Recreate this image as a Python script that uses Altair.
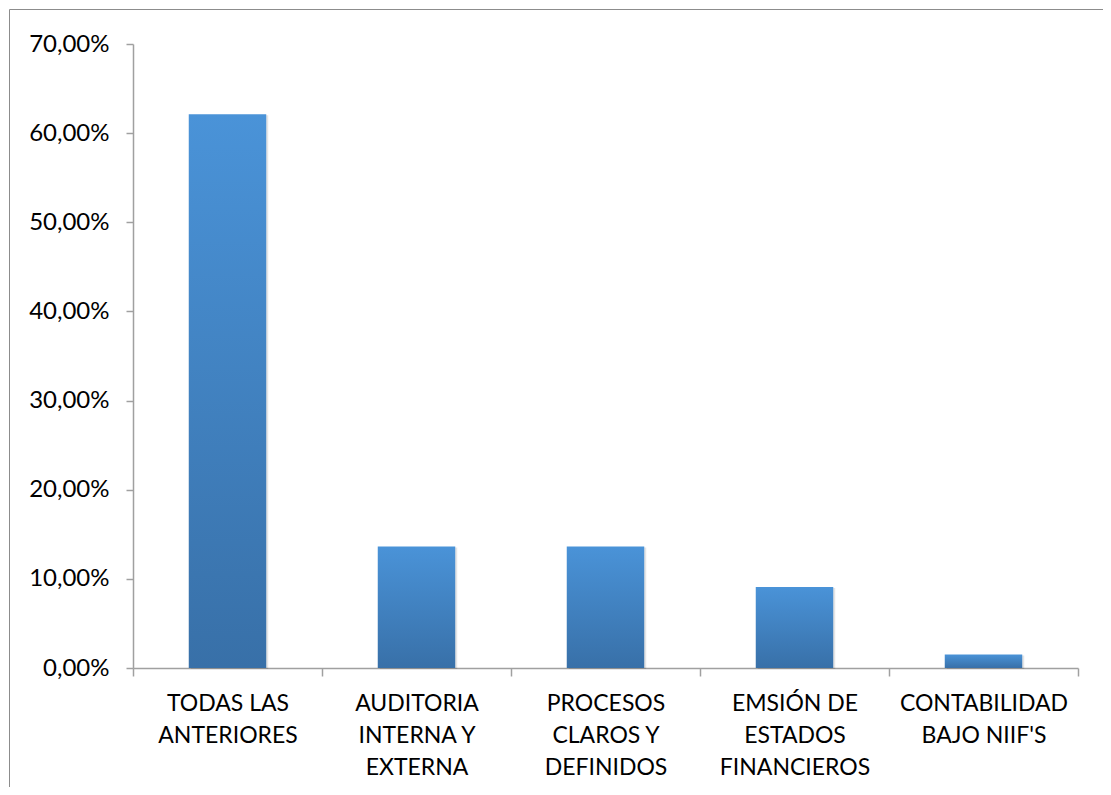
import altair as alt
import pandas as pd

# Category labels (lines separated by "|")
categories = [
    "TODAS LAS|ANTERIORES",
    "AUDITORIA|INTERNA Y|EXTERNA",
    "PROCESOS|CLAROS Y|DEFINIDOS",
    "EMSIÓN DE|ESTADOS|FINANCIEROS",
    "CONTABILIDAD|BAJO NIIF'S",
]
values = [0.6212, 0.1364, 0.1364, 0.0909, 0.0152]
y_ticks = [0.0, 0.1, 0.2, 0.3, 0.4, 0.5, 0.6, 0.7]

df = pd.DataFrame({"categoria": categories, "valor": values})

FONT = "Lato"
AXIS_GRAY = "#A0A0A0"

gradient = alt.LinearGradient(
    gradient="linear",
    stops=[
        alt.GradientStop(color="#4A93D8", offset=0),
        alt.GradientStop(color="#3870A8", offset=1),
    ],
    x1=0, x2=0, y1=0, y2=1,
)

x_enc = alt.X(
    "categoria:N",
    sort=categories,
    title=None,
    scale=alt.Scale(paddingInner=0, paddingOuter=0),
    axis=alt.Axis(
        labelAngle=0,
        labelExpr="split(datum.label, '|')",
        tickBand="extent",
        labelFont=FONT,
        labelFontSize=23,
        labelColor="#000000",
        labelLineHeight=32,
        labelPadding=16,
        tickSize=8,
        domainColor=AXIS_GRAY,
        tickColor=AXIS_GRAY,
        domainWidth=1.5,
        tickWidth=1.5,
        grid=False,
    ),
)

y_enc = alt.Y(
    "valor:Q",
    title=None,
    scale=alt.Scale(domain=[0, 0.7], nice=False, zero=True),
    axis=alt.Axis(
        values=y_ticks,
        labelExpr="replace(format(datum.value, '.2%'), '.', ',')",
        labelFont=FONT,
        labelFontSize=24,
        labelColor="#000000",
        labelPadding=17,
        tickSize=7,
        domainColor=AXIS_GRAY,
        tickColor=AXIS_GRAY,
        domainWidth=1.5,
        tickWidth=1.5,
        grid=False,
    ),
)

shadow = alt.Chart(df).mark_bar(
    width=alt.RelativeBandSize(0.41),
    color="#000000",
    opacity=0.10,
    xOffset=2,
    yOffset=1,
).encode(x=x_enc, y=y_enc)

bars = alt.Chart(df).mark_bar(
    width=alt.RelativeBandSize(0.41),
    color=gradient,
).encode(x=x_enc, y=y_enc)

border = alt.Chart(pd.DataFrame({"a": [0]})).mark_rect(
    fill=None, stroke="#8C8C8C", strokeWidth=1
).encode(
    x=alt.value(-123.5),
    x2=alt.value(3000),
    y=alt.value(-34.5),
    y2=alt.value(3000),
)

chart = alt.layer(border, shadow, bars).properties(
    width=945,
    height=624,
    autosize=alt.AutoSizeParams(type="none"),
    padding={"left": 125, "top": 36, "right": 25, "bottom": 119},
).configure(background="white").configure_view(stroke=None)

chart.save("out.html", embed_options={"renderer": "svg", "actions": False})
